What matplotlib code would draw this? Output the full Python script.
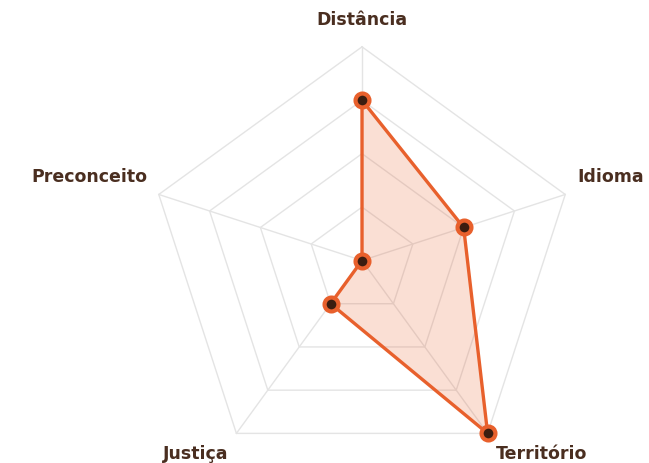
import numpy as np
import matplotlib
matplotlib.use("Agg")
import matplotlib.pyplot as plt

# dados do radar (escala 0-4)
categorias = ["Distância", "Idioma", "Território", "Justiça", "Preconceito"]
valores = [3, 2, 4, 1, 0]
n_aneis = 4

laranja = "#E8602C"
marrom = "#4A2E20"
cinza_grade = "#E4E4E4"

angulos = np.linspace(0, 2 * np.pi, len(categorias), endpoint=False)
ang_fechado = np.concatenate([angulos, angulos[:1]])
val_fechado = valores + valores[:1]

fig = plt.figure(figsize=(6.49, 4.63), dpi=100)
ax = fig.add_axes([0.2285, -0.0242, 0.6586, 0.9231], polar=True)
ax.set_theta_offset(np.pi / 2)
ax.set_theta_direction(-1)
ax.set_ylim(0, n_aneis)
ax.grid(False)
ax.spines["polar"].set_visible(False)
ax.set_xticks([])
ax.set_yticks([])
ax.patch.set_alpha(0)

# grade pentagonal
for r in range(1, n_aneis + 1):
    ax.plot(ang_fechado, [r] * len(ang_fechado), color=cinza_grade, lw=1, zorder=1, clip_on=False)
for a in angulos:
    ax.plot([a, a], [0, n_aneis], color=cinza_grade, lw=1, zorder=1, clip_on=False)

# serie
ax.fill(ang_fechado, val_fechado, color=laranja, alpha=0.2, lw=0, zorder=2, clip_on=False)
ax.plot(ang_fechado, val_fechado, color=laranja, lw=2.4, zorder=3, clip_on=False)
ax.plot(angulos, valores, ls="none", marker="o", markersize=10,
        markerfacecolor="#3B1D10", markeredgecolor=laranja, markeredgewidth=3,
        zorder=4, clip_on=False)

# rotulos dos eixos
offsets = [(0, 13, "center", "bottom"),
           (9, 6, "left", "bottom"),
           (6, -8, "left", "top"),
           (-6, -8, "right", "top"),
           (-8, 6, "right", "bottom")]
for a, nome, (dx, dy, ha, va) in zip(angulos, categorias, offsets):
    ax.annotate(nome, xy=(a, n_aneis), xytext=(dx, dy), textcoords="offset points",
                ha=ha, va=va, fontsize=12.5, fontweight="bold", color=marrom,
                annotation_clip=False)

fig.savefig("out.png", dpi=100)
